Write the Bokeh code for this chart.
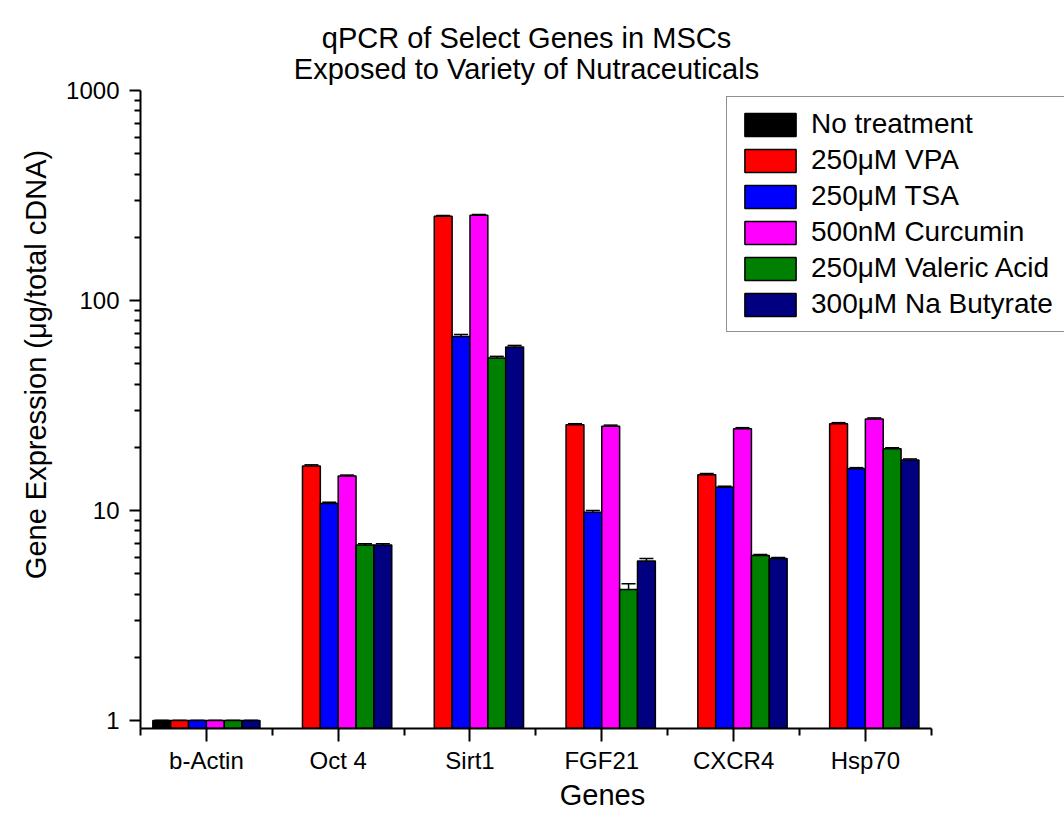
from bokeh.plotting import figure
from bokeh.models import (ColumnDataSource, FixedTicker, NumeralTickFormatter, Whisker,
                          TeeHead, Legend, LegendItem, Label, Range1d)
from bokeh.transform import dodge
from bokeh.embed import file_html
from bokeh.resources import INLINE

genes = ["b-Actin", "Oct 4", "Sirt1", "FGF21", "CXCR4", "Hsp70"]
series = ["No treatment", "250μM VPA", "250μM TSA", "500nM Curcumin",
          "250μM Valeric Acid", "300μM Na Butyrate"]
colors = ["#000000", "#FF0000", "#0000FF", "#FF00FF", "#008000", "#000080"]

no_treatment = [1.0, None, None, None, None, None]
vpa = [1.0, 16.3, 252.0, 25.6, 14.8, 25.9]
tsa = [1.0, 10.8, 67.4, 9.8, 12.9, 15.8]
curcumin = [1.0, 14.6, 255.0, 25.2, 24.5, 27.3]
valeric = [1.0, 6.85, 53.2, 4.2, 6.1, 19.7]
butyrate = [1.0, 6.85, 60.1, 5.75, 5.9, 17.4]

err_no_treatment = [0.0, None, None, None, None, None]
err_vpa = [0.0, 0.2, 2.0, 0.3, 0.2, 0.3]
err_tsa = [0.0, 0.15, 1.5, 0.2, 0.15, 0.2]
err_curcumin = [0.0, 0.15, 2.0, 0.3, 0.3, 0.3]
err_valeric = [0.0, 0.1, 1.0, 0.28, 0.08, 0.2]
err_butyrate = [0.0, 0.1, 1.0, 0.15, 0.08, 0.2]

values = [no_treatment, vpa, tsa, curcumin, valeric, butyrate]
errors = [err_no_treatment, err_vpa, err_tsa, err_curcumin, err_valeric, err_butyrate]

y_axis_min, y_axis_max = 0.916, 1000
FONT = "Liberation Sans"
bar_w = 0.1355

# frame spans past the axes so the title and legend (outside the axes box) are not clipped
p = figure(frame_width=924, frame_height=728,
           min_border_left=140, min_border_top=0, min_border_right=0, min_border_bottom=93,
           x_range=Range1d(-0.5, 6.511), y_range=Range1d(y_axis_min, 2683),
           y_axis_type="log", output_backend="svg", toolbar_location=None)
p.outline_line_color = None
p.xgrid.visible = False
p.ygrid.visible = False

items = []
for i, (name, vals, errs, col) in enumerate(zip(series, values, errors, colors)):
    xs = [k for k, v in enumerate(vals) if v is not None]
    tops = [vals[k] for k in xs]
    es = [errs[k] for k in xs]
    src = ColumnDataSource(dict(x=xs, top=tops,
                                upper=[t + e for t, e in zip(tops, es)],
                                lower=[t - e for t, e in zip(tops, es)]))
    off = (i - 2.5) * bar_w
    r = p.vbar(x=dodge("x", off), top="top", bottom=0.5, width=bar_w, source=src,
               fill_color=col, line_color="black", line_width=1.5)
    w = Whisker(base=dodge("x", off), upper="upper", lower="lower", source=src,
                line_color="black", line_width=1.5,
                upper_head=TeeHead(size=14, line_color="black", line_width=1.5),
                lower_head=TeeHead(size=14, line_color="black", line_width=1.5))
    p.add_layout(w)
    items.append(LegendItem(label=name, renderers=[r]))

# axes
xa = p.xaxis[0]
xa.bounds = (-0.5, len(genes) - 0.5)
xa.ticker = FixedTicker(ticks=list(range(len(genes))),
                        minor_ticks=[k - 0.5 for k in range(len(genes) + 1)])
xa.major_label_overrides = {k: g for k, g in enumerate(genes)}
xa.axis_label = "Genes"
ya = p.yaxis[0]
ya.bounds = (y_axis_min, y_axis_max)
ya.ticker = FixedTicker(ticks=[1, 10, 100, 1000],
                        minor_ticks=[m * d for d in (1, 10, 100) for m in range(2, 10)])
ya.formatter = NumeralTickFormatter(format="0")
ya.axis_label = "Gene Expression (μg/total cDNA)"

for ax in (xa, ya):
    ax.axis_line_width = 2
    ax.axis_line_color = "black"
    ax.major_tick_line_width = 2
    ax.minor_tick_line_width = 2
    ax.major_tick_line_color = "black"
    ax.minor_tick_line_color = "black"
    ax.major_tick_in = 0
    ax.minor_tick_in = 0
    ax.major_label_text_font = FONT
    ax.major_label_text_font_size = "24px"
    ax.major_label_text_color = "black"
    ax.axis_label_text_font = FONT
    ax.axis_label_text_font_size = "29px"
    ax.axis_label_text_font_style = "normal"
    ax.axis_label_text_color = "black"
xa.major_tick_out = 13
xa.minor_tick_out = 7
xa.major_label_standoff = 5
xa.axis_label_standoff = 2
ya.major_tick_out = 11
ya.minor_tick_out = 6
ya.major_label_standoff = 10
ya.axis_label_standoff = 11

legend = Legend(items=items, location=(586, 396), glyph_width=64, glyph_height=29,
                label_standoff=9, padding=11, spacing=4, margin=0,
                label_text_font=FONT, label_text_font_size="28px",
                label_text_color="black",
                border_line_color="#222222", border_line_width=1,
                background_fill_color="white", background_fill_alpha=1.0)
p.add_layout(legend)

p.add_layout(Label(x=386, y=691, x_units="screen", y_units="screen",
                   text="qPCR of Select Genes in MSCs", text_align="center",
                   text_baseline="alphabetic", text_font=FONT, text_font_size="29px",
                   text_color="black"))
p.add_layout(Label(x=386, y=660, x_units="screen", y_units="screen",
                   text="Exposed to Variety of Nutraceuticals", text_align="center",
                   text_baseline="alphabetic", text_font=FONT, text_font_size="29px",
                   text_color="black"))

open("out.html", "w").write(file_html(p, INLINE))
